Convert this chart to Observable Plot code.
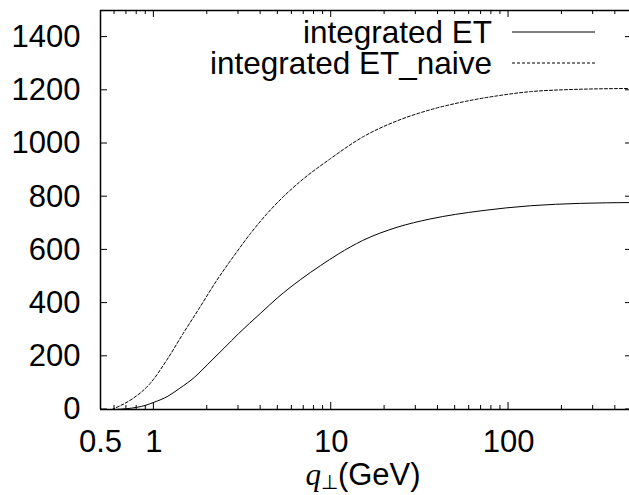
<!DOCTYPE html>
<html><head><meta charset="utf-8">
<script src="https://cdn.jsdelivr.net/npm/d3@7"></script>
<script src="https://cdn.jsdelivr.net/npm/@observablehq/plot@0.6"></script>
<style>
html,body{margin:0;padding:0;background:#fff;overflow:hidden}
#chart{width:640px}
</style></head><body><div id="chart"></div>
<script>
// Series names
const seriesNames = ["integrated ET", "integrated ET_naive"];
// integrated ET (solid)
const qET = [0.6, 0.7, 0.8, 0.9, 1, 1.2, 1.4, 1.7, 2, 2.5, 3, 4, 5, 6.7, 8.7, 11, 15, 23.5, 36, 70, 133, 255, 500];
const vET = [0, 3, 8, 16, 27, 50, 80, 122, 168, 232, 285, 362, 421, 488, 541, 585, 635, 685, 716, 747, 766, 775, 778];
// integrated ET_naive (dashed)
const qNaive = [0.58, 0.65, 0.76, 0.95, 1.18, 1.46, 1.82, 2.26, 2.81, 3.49, 4.33, 5.37, 6.68, 9.85, 15.2, 23.5, 36.3, 55.9, 86, 133, 205, 500];
const vNaive = [0, 15, 41, 97, 185, 285, 385, 485, 575, 660, 735, 800, 857, 942, 1026, 1085, 1127, 1157, 1179, 1195, 1202, 1207];
// Ticks
const xTickValues = [0.5, 1, 10, 100];
const xTickLabels = ["0.5", "1", "10", "100"];
const xMajorTickMarks = [1, 10, 100];
const xMinorTickMarks = [0.6, 0.7, 0.8, 0.9, 2, 3, 4, 5, 6, 7, 8, 9, 20, 30, 40, 50, 60, 70, 80, 90, 200, 300, 400];
const yTickValues = [0, 200, 400, 600, 800, 1000, 1200, 1400];
const xDomain = [0.5, 500];
const yDomain = [0, 1500];

const etData = qET.map((q, i) => ({q, v: vET[i]}));
const naiveData = qNaive.map((q, i) => ({q, v: vNaive[i]}));
const xLabelData = xTickValues.map((v, i) => ({v, label: xTickLabels[i]}));

const FONT = "'Liberation Sans', Arial, Helvetica, sans-serif";

const plot = Plot.plot({
  width: 632, height: 495,
  marginLeft: 100, marginRight: 0, marginTop: 10, marginBottom: 86,
  x: {type: "log", domain: xDomain, axis: null},
  y: {domain: yDomain, axis: null},
  style: {fontFamily: FONT, fontSize: "31px", color: "black", background: "white", overflow: "visible"},
  marks: [
    Plot.text(xLabelData, {x: "v", text: "label", frameAnchor: "bottom", lineAnchor: "top", dy: 20, fontSize: 31, fill: "black"}),
    Plot.axisY(yTickValues, {anchor: "left", label: null, tickSize: 0, tickPadding: 20, fontSize: 31, tickFormat: d => String(d)}),
    Plot.line(etData, {x: "q", y: "v", curve: "monotone-x", stroke: "black", strokeWidth: 1}),
    Plot.line(naiveData, {x: "q", y: "v", curve: "monotone-x", stroke: "black", strokeWidth: 1, strokeDasharray: "3,2"}),
    Plot.ruleX([xDomain[0]], {stroke: "black", strokeWidth: 1.5}),
    Plot.ruleY([yDomain[0]], {stroke: "black", strokeWidth: 1.5}),
    Plot.ruleY([yDomain[1]], {stroke: "black", strokeWidth: 1.5})
  ]
});

document.getElementById("chart").appendChild(plot);

const sx = plot.scale("x"), sy = plot.scale("y");
const X = v => sx.apply(v), Y = v => sy.apply(v);
const svg = d3.select(plot);
const [x0, x1] = sx.range;
const yb = Y(yDomain[0]), yt = Y(yDomain[1]);
const g = svg.append("g").attr("stroke", "black").attr("stroke-width", 1);
const major = 7, minor = 4;
for (const v of xMajorTickMarks) {
  g.append("line").attr("x1", X(v)).attr("x2", X(v)).attr("y1", yb).attr("y2", yb - major);
  g.append("line").attr("x1", X(v)).attr("x2", X(v)).attr("y1", yt).attr("y2", yt + major);
}
for (const v of xMinorTickMarks) {
  g.append("line").attr("x1", X(v)).attr("x2", X(v)).attr("y1", yb).attr("y2", yb - minor);
  g.append("line").attr("x1", X(v)).attr("x2", X(v)).attr("y1", yt).attr("y2", yt + minor);
}
for (const v of yTickValues) {
  g.append("line").attr("x1", x0).attr("x2", x0 + major).attr("y1", Y(v)).attr("y2", Y(v));
  g.append("line").attr("x1", x1).attr("x2", x1 - major).attr("y1", Y(v)).attr("y2", Y(v));
}

// Legend
const legendTextX = 492, sampleX1 = 512, sampleX2 = 595;
const legendRows = [
  {name: seriesNames[0], baseline: 43, lineY: 32, dash: null},
  {name: seriesNames[1], baseline: 74, lineY: 63, dash: "3,2"}
];
const lg = svg.append("g");
for (const r of legendRows) {
  lg.append("text").attr("x", legendTextX).attr("y", r.baseline).attr("text-anchor", "end")
    .attr("font-family", FONT).attr("font-size", 31.5).attr("fill", "black").text(r.name);
  const ln = lg.append("line").attr("x1", sampleX1).attr("x2", sampleX2).attr("y1", r.lineY).attr("y2", r.lineY)
    .attr("stroke", "black").attr("stroke-width", 1);
  if (r.dash) ln.attr("stroke-dasharray", r.dash);
}

// X axis title: q⊥(GeV)
const title = svg.append("text").attr("x", (x0 + x1) / 2 - 3).attr("y", 485).attr("text-anchor", "middle")
  .attr("font-family", FONT).attr("font-size", 31).attr("fill", "black");
title.append("tspan").attr("font-family", "'Liberation Serif', 'Times New Roman', serif").attr("font-style", "italic").text("q");
title.append("tspan").attr("font-size", 20).attr("dy", 4).text("⊥");
title.append("tspan").attr("dy", -4).text("(GeV)");
</script>
</body></html>
